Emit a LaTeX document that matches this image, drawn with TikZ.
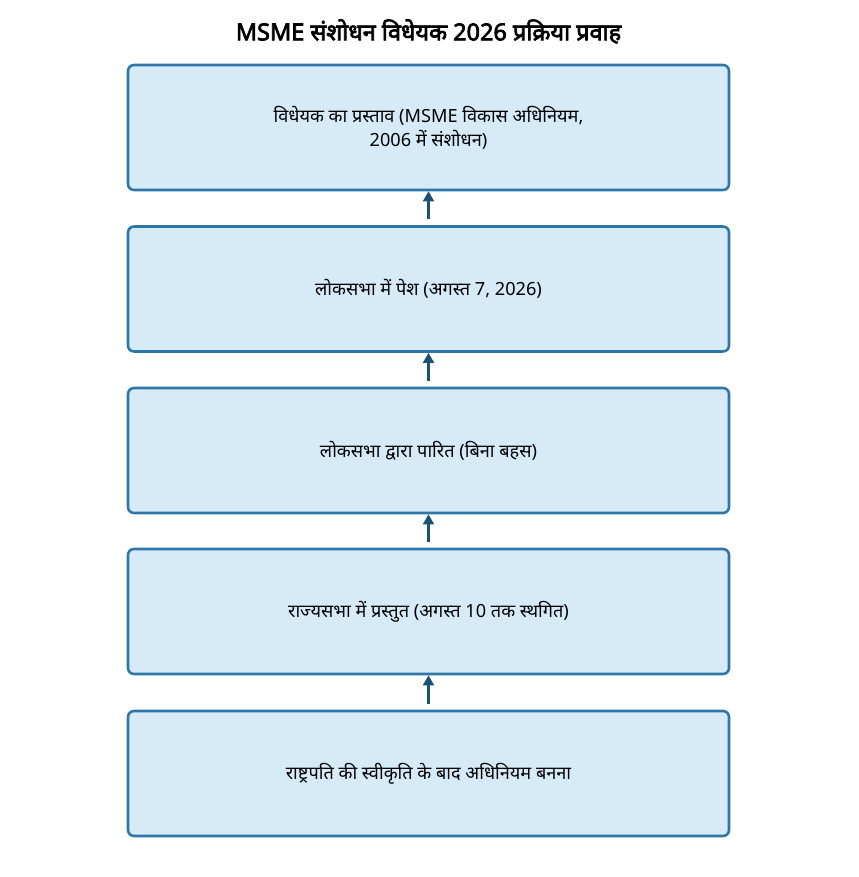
\documentclass[tikz,border=0pt]{standalone}
\usepackage{fontspec}
\setmainfont[Script=Devanagari]{Noto Sans}
\newfontfamily\titlefont[Script=Devanagari, FakeBold=3]{Noto Sans}
\usetikzlibrary{arrows.meta}
\definecolor{boxfill}{HTML}{D6EAF8}
\definecolor{boxedge}{HTML}{2E75A8}
\definecolor{arrowc}{HTML}{1A5276}
\tikzset{
  stepbox/.style={draw=boxedge, fill=boxfill, line width=1.9pt, rounded corners=4.5pt,
    minimum width=450.75pt, minimum height=93.75pt, align=center, font=\fontsize{13.6}{18}\selectfont, text=black},
  flowarrow/.style={draw=arrowc, line width=1.9pt, -{Stealth[length=7.5pt,width=8pt,inset=0pt]}}
}
\begin{document}
\begin{tikzpicture}[x=0.75pt,y=-0.75pt]
\useasboundingbox (0,0) rectangle (858,877);
\node[font=\titlefont\fontsize{17.6}{21}\selectfont] (title) at (428.5,31.5) {MSME संशोधन विधेयक 2026 प्रक्रिया प्रवाह};
\node[stepbox] (b1) at (428.5,127.5) {विधेयक का प्रस्ताव (MSME विकास अधिनियम,\\2006 में संशोधन)};
\node[stepbox] (b2) at (428.5,289) {लोकसभा में पेश (अगस्त 7, 2026)};
\node[stepbox] (b3) at (428.5,450.5) {लोकसभा द्वारा पारित (बिना बहस)};
\node[stepbox] (b4) at (428.5,611.5) {राज्यसभा में प्रस्तुत (अगस्त 10 तक स्थगित)};
\node[stepbox] (b5) at (428.5,773.5) {राष्ट्रपति की स्वीकृति के बाद अधिनियम बनना};
\draw[flowarrow] ([yshift=4.5pt]b2.north) -- (b1.south);
\draw[flowarrow] ([yshift=4.5pt]b3.north) -- (b2.south);
\draw[flowarrow] ([yshift=4.5pt]b4.north) -- (b3.south);
\draw[flowarrow] ([yshift=4.5pt]b5.north) -- (b4.south);
\end{tikzpicture}
\end{document}
